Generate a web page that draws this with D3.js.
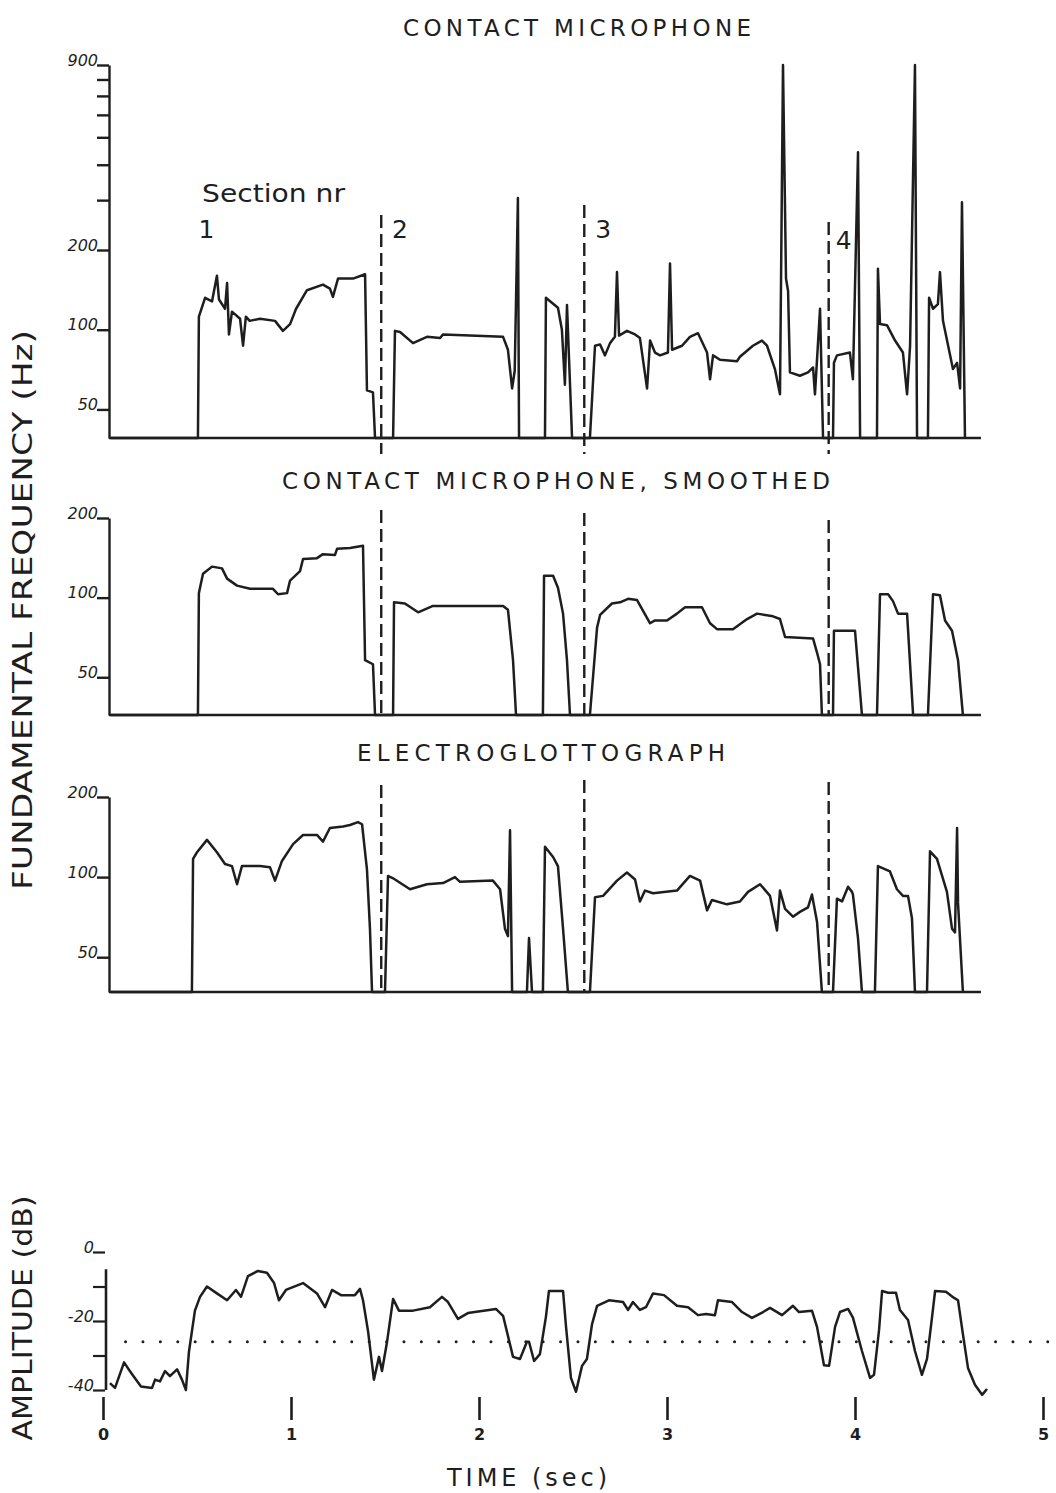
<!DOCTYPE html>
<html>
<head>
<meta charset="utf-8">
<script src="https://cdn.jsdelivr.net/npm/d3@7"></script>
<style>
  body { margin: 0; background: #fff; }
  text { font-family: "DejaVu Sans", sans-serif; fill: #1e1e1e; }
</style>
</head>
<body>
<div id="chart"></div>
<script>
// time in seconds, frequency in Hz (0 = unvoiced, drawn on the baseline), amplitude in dB
const timeTicks = [0, 1, 2, 3, 4, 5];
const sectionBounds = [1.48, 2.56, 3.86];
const sectionNames = ["1", "2", "3", "4"];
const sectionLabelTimes = [0.55, 1.58, 2.66, 3.94];
const hzTicks = [50, 100, 200];
const hzMinorTicks = [300, 400, 500, 600, 700, 800];
const hzTopTick = 900;
const dbTicks = [0, -10, -20, -30, -40];
const dbLabelled = [0, -20, -40];
const referenceLevel = -26;

const contactMic = [
  [0.04,0],[0.505,0],[0.51,112],[0.543,132],[0.58,128],[0.606,160],[0.617,130],[0.649,120],[0.66,150],[0.67,96],
  [0.686,117],[0.729,110],[0.745,87],[0.76,112],[0.78,108],[0.835,110],[0.915,108],[0.957,99],[0.995,105],[1.027,120],
  [1.085,141],[1.17,148],[1.207,143],[1.223,133],[1.25,156],[1.33,156],[1.394,162],[1.404,59],[1.436,58],[1.447,0],
  [1.543,0],[1.553,99],[1.58,98],[1.649,89],[1.723,94],[1.793,93],[1.809,96],[2.128,94],[2.154,84],[2.176,60],
  [2.19,70],[2.207,305],[2.213,0],
  [2.351,0],[2.356,132],[2.378,128],[2.42,121],[2.441,100],[2.457,62],[2.468,124],[2.495,0],
  [2.59,0],[2.617,87],[2.644,88],[2.67,80],[2.697,89],[2.723,94],[2.734,165],[2.745,95],[2.787,99],[2.83,96],
  [2.856,93],[2.894,60],[2.91,91],[2.936,82],[2.963,80],[3.005,82],[3.016,178],[3.027,84],[3.08,87],[3.122,94],
  [3.165,97],[3.213,82],[3.229,65],[3.245,80],[3.282,77],[3.372,76],[3.388,79],[3.457,87],[3.505,91],[3.532,87],
  [3.574,71],[3.601,57],[3.617,900],[3.633,156],[3.644,140],[3.654,69],[3.707,67],[3.75,69],[3.777,72],[3.787,57],
  [3.814,120],[3.83,0],
  [3.883,0],[3.888,75],[3.904,80],[3.973,82],[3.989,65],[4.016,443],[4.027,0],
  [4.117,0],[4.122,170],[4.133,105],[4.17,104],[4.213,91],[4.255,82],[4.277,57],[4.293,87],[4.319,900],[4.33,0],
  [4.388,0],[4.394,132],[4.415,120],[4.441,125],[4.452,165],[4.468,108],[4.521,71],[4.543,75],[4.559,60],[4.569,295],
  [4.585,0]
];

const contactSmoothed = [
  [0.04,0],[0.505,0],[0.51,104],[0.532,123],[0.58,131],[0.633,129],[0.66,118],[0.713,111],[0.782,108],[0.904,108],
  [0.931,103],[0.979,104],[0.995,116],[1.048,126],[1.064,140],[1.138,141],[1.17,146],[1.234,145],[1.245,153],[1.314,154],
  [1.383,157],[1.394,58],[1.436,56],[1.447,0],
  [1.543,0],[1.548,96],[1.606,95],[1.676,88],[1.755,93],[2.128,93],[2.154,90],[2.181,58],[2.197,0],
  [2.34,0],[2.346,121],[2.394,121],[2.42,109],[2.447,87],[2.468,58],[2.484,0],
  [2.59,0],[2.628,77],[2.644,86],[2.707,95],[2.75,96],[2.793,99],[2.84,98],[2.91,80],[2.936,82],[3.0,82],
  [3.053,87],[3.096,92],[3.186,92],[3.229,80],[3.266,76],[3.351,76],[3.426,83],[3.479,87],[3.564,85],[3.601,83],
  [3.628,71],[3.777,70],[3.798,62],[3.814,56],[3.824,0],
  [3.883,0],[3.888,75],[4.0,75],[4.037,0],
  [4.117,0],[4.133,103],[4.176,103],[4.202,97],[4.229,87],[4.277,87],[4.309,0],
  [4.388,0],[4.415,103],[4.452,102],[4.479,82],[4.516,75],[4.548,58],[4.574,0]
];

const electroglottograph = [
  [0.04,0],[0.473,0],[0.479,117],[0.5,124],[0.553,138],[0.606,124],[0.649,112],[0.686,110],[0.713,94],[0.739,110],
  [0.835,110],[0.888,109],[0.915,97],[0.952,115],[1.011,133],[1.064,144],[1.138,144],[1.17,136],[1.207,153],[1.277,155],
  [1.314,157],[1.356,161],[1.378,158],[1.404,107],[1.42,64],[1.431,0],
  [1.5,0],[1.516,101],[1.543,99],[1.633,90],[1.723,94],[1.809,95],[1.872,100],[1.899,96],[2.074,97],[2.112,90],
  [2.138,64],[2.154,60],[2.165,150],[2.176,0],
  [2.255,0],[2.266,59],[2.282,0],
  [2.34,0],[2.351,130],[2.394,119],[2.42,110],[2.447,64],[2.473,0],
  [2.59,0],[2.617,84],[2.66,85],[2.734,97],[2.787,104],[2.83,98],[2.856,81],[2.883,89],[2.926,87],[3.053,89],
  [3.122,101],[3.176,97],[3.213,75],[3.239,82],[3.319,79],[3.388,81],[3.431,88],[3.495,94],[3.548,85],[3.585,63],
  [3.601,89],[3.628,76],[3.67,71],[3.707,74],[3.75,77],[3.771,86],[3.798,68],[3.824,0],
  [3.883,0],[3.904,83],[3.931,81],[3.963,92],[3.984,88],[3.989,86],[4.016,59],[4.037,0],
  [4.106,0],[4.122,110],[4.186,105],[4.223,90],[4.255,85],[4.282,85],[4.303,70],[4.319,0],
  [4.383,0],[4.399,125],[4.436,117],[4.489,88],[4.516,64],[4.532,62],[4.543,153],[4.548,80],[4.574,0]
];

const amplitude = [
  [0.037,-38],[0.064,-39.4],[0.112,-32],[0.149,-35],[0.202,-39],[0.261,-39.4],[0.277,-37],[0.303,-37.5],[0.33,-34.5],[0.356,-36],
  [0.394,-34],[0.42,-37],[0.441,-40],[0.457,-29],[0.489,-17],[0.516,-13],[0.553,-10],[0.606,-12],[0.66,-14],[0.707,-11],
  [0.734,-13],[0.771,-7],[0.824,-5.5],[0.872,-6],[0.91,-9],[0.936,-14],[0.973,-11],[1.064,-9],[1.138,-12],[1.181,-16],
  [1.218,-11],[1.266,-12.5],[1.34,-12.5],[1.367,-10.7],[1.383,-14],[1.41,-23],[1.441,-37],[1.468,-30.4],[1.484,-34.5],[1.511,-26],
  [1.543,-13.6],[1.574,-17],[1.649,-17],[1.739,-16],[1.803,-13],[1.835,-14.5],[1.888,-19.4],[1.941,-17.7],[2.09,-16.5],[2.128,-18.5],
  [2.181,-30.4],[2.218,-31],[2.255,-26],[2.266,-26],[2.293,-31.6],[2.324,-29.6],[2.356,-18.8],[2.372,-11.3],[2.447,-11.3],[2.463,-21.7],
  [2.489,-36.5],[2.516,-40.5],[2.548,-33],[2.574,-31],[2.601,-21],[2.628,-15.6],[2.691,-14],[2.766,-14.5],[2.793,-16.8],[2.819,-14.5],
  [2.856,-16.8],[2.888,-16],[2.926,-12],[2.984,-12.5],[3.053,-15.6],[3.112,-16],[3.165,-18.3],[3.207,-18],[3.255,-18.3],[3.271,-14],
  [3.346,-14.5],[3.399,-17.4],[3.452,-19.1],[3.511,-17.4],[3.548,-16.2],[3.612,-18.3],[3.67,-15.6],[3.702,-17.4],[3.771,-17],[3.798,-21.7],
  [3.835,-32.8],[3.862,-33],[3.894,-21.7],[3.92,-17.4],[3.963,-16.5],[3.989,-19],[4.037,-28.7],[4.08,-36.5],[4.101,-35.6],[4.128,-22.6],
  [4.144,-11.3],[4.176,-11.8],[4.218,-11.8],[4.239,-16.8],[4.282,-19.7],[4.319,-28.7],[4.356,-35.6],[4.383,-31],[4.41,-18.8],[4.426,-11.3],
  [4.484,-11.5],[4.527,-13.3],[4.548,-14],[4.574,-23.8],[4.601,-33.6],[4.638,-38.5],[4.676,-41.4],[4.702,-39.7]
];

const W = 1056, H = 1493;
const ink = "#1e1e1e";

const svg = d3.select("#chart").append("svg")
  .attr("width", W)
  .attr("height", H);

const x = d3.scaleLinear().domain([0, 5]).range([103, 1043]);
const axisX = 109;
const baseEnd = x(4.67);

const panels = [
  { title: "CONTACT MICROPHONE", titleY: 36, titleX: 577, titleLen: 348,
    data: contactMic, domain: [39, 200, 900], range: [438, 250, 65], dashTop: [215, 205, 222], dashExtra: 16 },
  { title: "CONTACT MICROPHONE, SMOOTHED", titleY: 489, titleX: 556, titleLen: 548,
    data: contactSmoothed, domain: [36, 200], range: [715, 518], dashTop: [510, 513, 520], dashExtra: 0 },
  { title: "ELECTROGLOTTOGRAPH", titleY: 761, titleX: 541, titleLen: 368,
    data: electroglottograph, domain: [37, 200], range: [992, 797], dashTop: [785, 780, 782], dashExtra: 0 }
];

panels.forEach(function(p, i) {
  const y = d3.scaleLog().domain(p.domain).range(p.range).clamp(true);
  const base = p.range[0];
  const g = svg.append("g");

  g.append("text")
   .attr("x", p.titleX)
   .attr("y", p.titleY)
   .attr("text-anchor", "middle")
   .attr("font-size", 23)
   .attr("textLength", p.titleLen)
   .attr("lengthAdjust", "spacing")
   .text(p.title);

  // left axis
  const ticks = i === 0 ? hzTicks.concat([hzTopTick]) : hzTicks;
  const ax = g.append("g")
   .attr("transform", "translate(" + axisX + ",0)")
   .call(d3.axisLeft(y).tickValues(ticks).tickSize(12).tickSizeOuter(0).tickFormat(d3.format("d")));
  if (i === 0) {
    ax.append("g").call(d3.axisLeft(y).tickValues(hzMinorTicks).tickSize(12).tickSizeOuter(0).tickFormat(""))
      .select(".domain").remove();
  }
  ax.selectAll("path, line").attr("stroke", ink).attr("stroke-width", 2.4);
  ax.selectAll("text")
    .attr("x", -11).attr("dy", "0")
    .attr("font-size", 16).attr("font-style", "italic")
    .attr("font-family", "DejaVu Sans, sans-serif")
    .attr("fill", ink);

  // baseline
  g.append("line")
   .attr("x1", axisX).attr("x2", baseEnd)
   .attr("y1", base).attr("y2", base)
   .attr("stroke", ink).attr("stroke-width", 2.6);

  // section boundaries
  g.selectAll(".sec")
   .data(sectionBounds)
   .enter().append("line")
   .attr("x1", d => x(d)).attr("x2", d => x(d))
   .attr("y1", (d, k) => p.dashTop[k])
   .attr("y2", base + p.dashExtra)
   .attr("stroke", ink).attr("stroke-width", 2.4)
   .attr("stroke-dasharray", "13,6");

  // F0 trace
  g.append("path")
   .datum(p.data)
   .attr("fill", "none")
   .attr("stroke", ink)
   .attr("stroke-width", 2.5)
   .attr("stroke-linejoin", "round")
   .attr("d", d3.line().x(d => x(d[0])).y(d => y(d[1])));
});

// section labels on the top panel
svg.append("text")
  .attr("x", 202).attr("y", 202)
  .attr("font-size", 25)
  .attr("textLength", 143)
  .attr("lengthAdjust", "spacingAndGlyphs")
  .text("Section nr");

svg.selectAll(".secname")
  .data(sectionNames)
  .enter().append("text")
  .attr("x", (d, i) => x(sectionLabelTimes[i]))
  .attr("y", (d, i) => i === 3 ? 249 : 238)
  .attr("font-size", 25)
  .attr("text-anchor", "middle")
  .text(d => d);

// y label for the frequency panels
svg.append("text")
  .attr("transform", "translate(32,610) rotate(-90)")
  .attr("text-anchor", "middle")
  .attr("font-size", 27)
  .attr("textLength", 560)
  .attr("lengthAdjust", "spacingAndGlyphs")
  .text("FUNDAMENTAL FREQUENCY (Hz)");

// amplitude panel
const yA = d3.scaleLinear().domain([-40, 0]).range([1390, 1252]);
const ga = svg.append("g");

const aax = ga.append("g")
  .attr("transform", "translate(" + (axisX - 4) + ",0)")
  .call(d3.axisLeft(yA).tickValues(dbTicks).tickSize(12).tickSizeOuter(0)
        .tickFormat(d => dbLabelled.includes(d) ? String(d) : ""));
aax.select(".domain").remove();
aax.selectAll("line").attr("stroke", ink).attr("stroke-width", 2.2);
aax.selectAll("text")
  .attr("x", -11).attr("dy", "0")
  .attr("font-size", 16).attr("font-style", "italic")
  .attr("font-family", "DejaVu Sans, sans-serif")
  .attr("fill", ink);

ga.append("line")
  .attr("x1", axisX - 3).attr("x2", axisX - 3)
  .attr("y1", yA(-5)).attr("y2", yA(-40))
  .attr("stroke", ink).attr("stroke-width", 2.6);

ga.append("line")
  .attr("x1", x(0.12)).attr("x2", W)
  .attr("y1", yA(referenceLevel)).attr("y2", yA(referenceLevel))
  .attr("stroke", ink).attr("stroke-width", 3)
  .attr("stroke-linecap", "round")
  .attr("stroke-dasharray", "0,17.4");

ga.append("path")
  .datum(amplitude)
  .attr("fill", "none")
  .attr("stroke", ink)
  .attr("stroke-width", 2.5)
  .attr("stroke-linejoin", "round")
  .attr("d", d3.line().x(d => x(d[0])).y(d => yA(d[1])));

const tax = ga.append("g")
  .attr("transform", "translate(0,1397)")
  .call(d3.axisBottom(x).tickValues(timeTicks).tickSize(23).tickFormat(d3.format("d")));
tax.select(".domain").remove();
tax.selectAll("line").attr("stroke", ink).attr("stroke-width", 2.6);
tax.selectAll("text")
  .attr("y", 43).attr("dy", "0")
  .attr("font-size", 16).attr("font-weight", "bold")
  .attr("font-family", "DejaVu Sans, sans-serif")
  .attr("fill", ink);

ga.append("text")
  .attr("transform", "translate(32,1318) rotate(-90)")
  .attr("text-anchor", "middle")
  .attr("font-size", 27)
  .attr("textLength", 245)
  .attr("lengthAdjust", "spacingAndGlyphs")
  .text("AMPLITUDE (dB)");

ga.append("text")
  .attr("x", 527).attr("y", 1486)
  .attr("text-anchor", "middle")
  .attr("font-size", 24)
  .attr("textLength", 160)
  .attr("lengthAdjust", "spacing")
  .text("TIME (sec)");
</script>
</body>
</html>
